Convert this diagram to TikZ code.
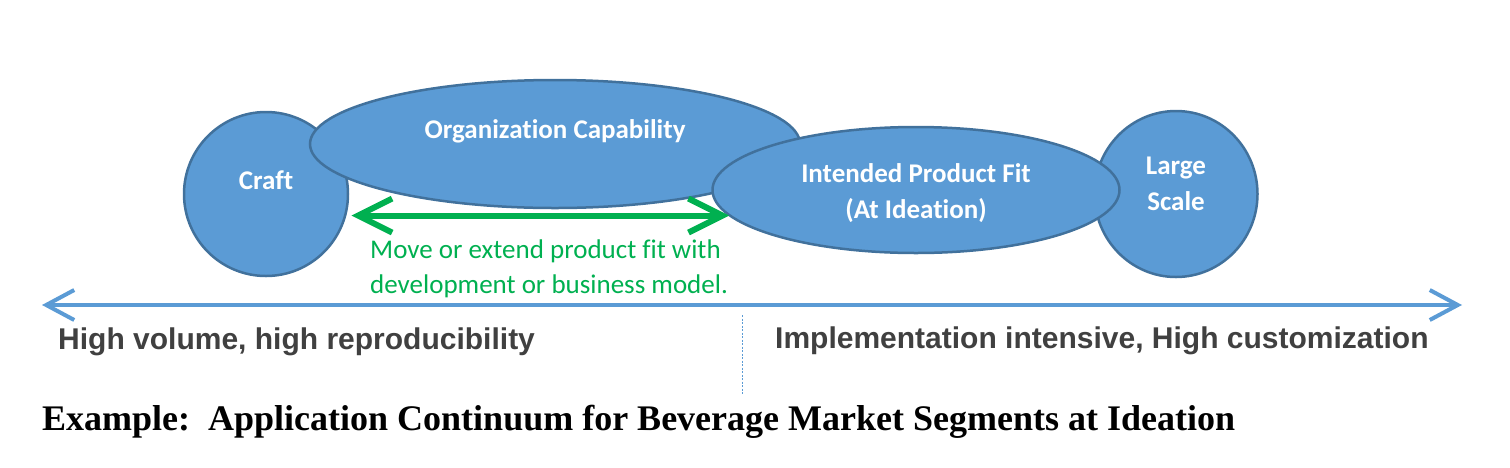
\documentclass[tikz,border=0pt]{standalone}
\usepackage{fontspec}
\setmainfont{Carlito}[Ligatures={NoCommon}]
\newfontfamily\axisfont{Liberation Sans}
\newfontfamily\titlefont{Liberation Serif}
\usetikzlibrary{shapes.geometric, arrows.meta}

\definecolor{blobfill}{HTML}{5B9BD5}
\definecolor{blobline}{HTML}{41719C}
\definecolor{axisblue}{HTML}{5B9BD5}
\definecolor{movegreen}{HTML}{00B050}
\definecolor{axisgray}{HTML}{404040}

\tikzset{
  blob/.style={ellipse, draw=blobline, fill=blobfill, line width=2.5pt, inner sep=0pt},
  blobtext/.style={text=white, inner sep=0pt, align=center,
                   font=\fontsize{27}{36}\selectfont\bfseries},
  movetext/.style={text=movegreen, inner sep=0pt, align=left,
                   font=\fontsize{27}{35}\selectfont},
  axistext/.style={text=axisgray, inner sep=0pt, font=\axisfont\fontsize{30}{36}\selectfont\bfseries},
  move/.style={draw=movegreen, line width=6pt,
               {Straight Barb[length=34pt,width=34pt]}-{Straight Barb[length=34pt,width=34pt]}},
  axis/.style={draw=axisblue, line width=4pt,
               {Straight Barb[length=28pt,width=30pt]}-{Straight Barb[length=28pt,width=30pt]}}
}

\begin{document}
\begin{tikzpicture}[x=1pt, y=-1pt]
    \useasboundingbox (0, 0) rectangle (1510, 467);

    % segments and capabilities
    \node[blob, minimum width=164pt, minimum height=164pt] (craft) at (266, 194) {};
    \node[blob, minimum width=163pt, minimum height=166pt] (large) at (1176, 194) {};
    \node[blob, minimum width=490pt, minimum height=128pt] (org)   at (555, 144) {};
    \node[blob, minimum width=407pt, minimum height=126pt] (fit)   at (916, 190) {};

    \node[blobtext, anchor=base] (crafttxt) at (266, 189) {Craft};
    \node[blobtext, anchor=base] (largetxt) at (1176, 210) {Large\\Scale};
    \node[blobtext, anchor=base] (orgtxt)   at (555, 138) {Organization Capability};
    \node[blobtext, anchor=base] (fittxt)   at (916, 218) {Intended Product Fit\\(At Ideation)};

    % move the fit
    \draw[move] ([xshift=5pt]craft.-15) -- (craft.-15 -| fit.188);
    \node[movetext, anchor=base west] (movetxt) at (370, 293)
      {Move or extend product fit with\\development or business model.};

    % continuum
    \coordinate (axl) at (42, 305);
    \coordinate (axr) at (1462, 305);
    \draw[axis] (axl) -- (axr);
    \coordinate (divtop) at (742, 315);
    \coordinate (divbot) at (742, 395);
    \draw[axisblue, line width=0.8pt, dash pattern=on 2pt off 1.5pt] (divtop) -- (divbot);

    \node[axistext, anchor=base west] (lowend)  at (58, 349)  {High volume, high reproducibility};
    \node[axistext, anchor=base west] (highend) at (775, 348) {Implementation intensive, High customization};

    \node[inner sep=0pt, anchor=base west, font=\titlefont\fontsize{36}{40}\selectfont\bfseries] (title)
      at (42, 430) {Example:\ \ Application Continuum for Beverage Market Segments at Ideation};
  \end{tikzpicture}
\end{document}
